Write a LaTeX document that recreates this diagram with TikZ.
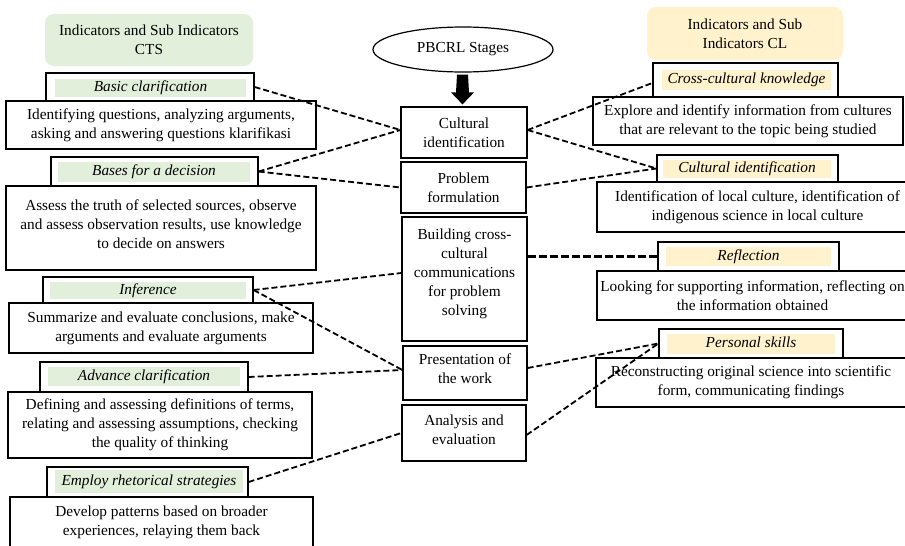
\documentclass[tikz,border=0pt]{standalone}
\usepackage{fontspec}
\setmainfont{Liberation Serif}
\usetikzlibrary{shapes.geometric,calc}
\definecolor{ctsgreen}{HTML}{E2EFDA}
\definecolor{clyellow}{HTML}{FFF2CC}
\newcommand{\lowstrut}[1]{\rule[-#1pt]{0pt}{#1pt}}
\begin{document}
\begin{tikzpicture}[x=1pt,y=-1pt,
  every node/.style={font=\fontsize{15.3}{19}\selectfont, inner sep=0pt, align=center},
  hdr/.style={fill=#1, rounded corners=9pt},
  ttl/.style={draw, line width=1.2pt, fill=white},
  tfill/.style={fill=#1, font=\fontsize{15.3}{19}\selectfont\itshape, text height=10.5pt, text depth=3.5pt},
  desc/.style={draw, line width=1.2pt, fill=white},
  stage/.style={draw, line width=1.2pt, fill=white},
  conn/.style={line width=1.8pt, dash pattern=on 6pt off 3pt}]
\useasboundingbox (0,0) rectangle (905,546);
\fill[white] (0,0) rectangle (905,546);

% headers
\node[hdr=ctsgreen, minimum width=208pt, minimum height=52pt] (hl) at (149,40) {Indicators and Sub Indicators\\CTS};
\node[hdr=clyellow, minimum width=196pt, minimum height=53pt] (hr) at (745,33.5) {Indicators and Sub\\Indicators CL};

% left column
\node[ttl, minimum width=208pt, minimum height=28pt] (t1) at (150,87) {};
\node[tfill=ctsgreen, minimum width=191pt, minimum height=18pt] (t1f) at (150.5,88) {Basic clarification};
\node[desc, minimum width=310pt, minimum height=48pt] (d1) at (161,125) {Identifying questions, analyzing arguments,\\asking and answering questions klarifikasi};

\node[ttl, minimum width=207pt, minimum height=29pt] (t2) at (154.5,171.5) {};
\node[tfill=ctsgreen, minimum width=192pt, minimum height=20pt] (t2f) at (154,172) {Bases for a decision};
\node[desc, minimum width=310pt, minimum height=84pt] (d2) at (161,228) {Assess the truth of selected sources, observe\\and assess observation results, use knowledge\\to decide on answers\lowstrut{8}};

\node[ttl, minimum width=210pt, minimum height=26pt] (t3) at (148,290) {};
\node[tfill=ctsgreen, minimum width=196pt, minimum height=17pt] (t3f) at (148,290.5) {Inference};
\node[desc, minimum width=304pt, minimum height=50pt] (d3) at (161,328) {Summarize and evaluate conclusions, make\\arguments and evaluate arguments};

\node[ttl, minimum width=208pt, minimum height=30pt] (t4) at (144,377) {};
\node[tfill=ctsgreen, minimum width=192pt, minimum height=19pt] (t4f) at (144,376.5) {Advance clarification};
\node[desc, minimum width=304pt, minimum height=66pt] (d4) at (160,425) {Defining and assessing definitions of terms,\\relating and assessing assumptions, checking\\the quality of thinking};

\node[ttl, minimum width=201pt, minimum height=30pt] (t5) at (147.5,482) {};
\node[tfill=ctsgreen, minimum width=188pt, minimum height=23pt] (t5f) at (149,481.5) {Employ rhetorical strategies};
\node[desc, minimum width=303pt, minimum height=51pt] (d5) at (161.5,522.5) {Develop patterns based on broader\\experiences, relaying them back};

% centre column
\node[ellipse, draw, line width=1.2pt, minimum width=180pt, minimum height=45pt] (ell) at (463,49.5) {PBCRL Stages};
\node[stage, minimum width=126pt, minimum height=51pt] (ci) at (464,132.5) {Cultural\\identification};
\node[stage, minimum width=125pt, minimum height=51pt] (pf) at (463.5,187.5) {Problem\\formulation};
\node[stage, minimum width=125pt, minimum height=124pt] (bc) at (464.5,279) {Building cross-\\cultural\\communications\\for problem\\solving\lowstrut{13}};
\node[stage, minimum width=124pt, minimum height=54pt] (pw) at (465,373) {Presentation of\\the work\lowstrut{8}};
\node[stage, minimum width=124pt, minimum height=56pt] (ae) at (464,433) {Analysis and\\evaluation\lowstrut{7}};

\fill ($(ell.south)+(-6,2)$) -- ($(ell.south)+(5,2)$) -- ($(ci.north)+(5,-14)$) -- ($(ci.north)+(10,-14)$) -- ($(ci.north)+(-1.5,-2)$) -- ($(ci.north)+(-13,-14)$) -- ($(ci.north)+(-8,-14)$) -- cycle;

% right column
\node[ttl, minimum width=185pt, minimum height=34pt] (rt1) at (745.5,80) {};
\node[tfill=clyellow, minimum width=169pt, minimum height=20pt] (rt1f) at (746.5,80) {Cross-cultural knowledge};
\node[desc, minimum width=310pt, minimum height=48pt] (r1) at (748,121) {Explore and identify information from cultures\\that are relevant to the topic being studied};

\node[ttl, minimum width=181pt, minimum height=27pt] (rt2) at (747.5,168.5) {};
\node[tfill=clyellow, minimum width=168pt, minimum height=18pt] (rt2f) at (747,169) {Cultural identification};
\node[desc, minimum width=321pt, minimum height=50pt] (r2) at (757.5,207) {Identification of local culture, identification of\\indigenous science in local culture};

\node[ttl, minimum width=181pt, minimum height=29pt] (rt3) at (748.5,256.5) {};
\node[tfill=clyellow, minimum width=165pt, minimum height=19pt] (rt3f) at (748.5,256.5) {Reflection};
\node[desc, minimum width=311pt, minimum height=49pt] (r3) at (752.5,295.5) {Looking for supporting information, reflecting on\\the information obtained};

\node[ttl, minimum width=184pt, minimum height=29pt] (rt4) at (751,343.5) {};
\node[tfill=clyellow, minimum width=168pt, minimum height=20pt] (rt4f) at (751,344) {Personal skills};
\node[desc, minimum width=310pt, minimum height=49pt] (r4) at (751,382.5) {Reconstructing original science into scientific\\form, communicating findings};

% connectors
\draw[conn] (t1.east) -- ([yshift=2.5pt]ci.west);
\draw[conn] (t2.east) -- ([yshift=2.5pt]ci.west);
\draw[conn] (t2.east) -- (pf.west);
\draw[conn] (t3.east) -- ([yshift=6pt]bc.west);
\draw[conn] (t3.east) -- ([yshift=3pt]pw.west);
\draw[conn] (t4.east) -- ([yshift=3pt]pw.west);
\draw[conn] (t5.east) -- (ae.west);
\draw[conn] ([yshift=2.5pt]ci.east) -- ([yshift=-3pt]rt1.west);
\draw[conn] ([yshift=2.5pt]ci.east) -- (rt2.west);
\draw[conn] (pf.east) -- (rt2.west);
\draw[conn, line width=2.6pt, dash pattern=on 8pt off 3pt] (bc.east |- rt3.west) -- (rt3.west);
\draw[conn] ([yshift=5pt]pw.east) -- (rt4.west);
\draw[conn] ([yshift=-2pt]ae.east) -- (rt4.west);
\end{tikzpicture}
\end{document}
